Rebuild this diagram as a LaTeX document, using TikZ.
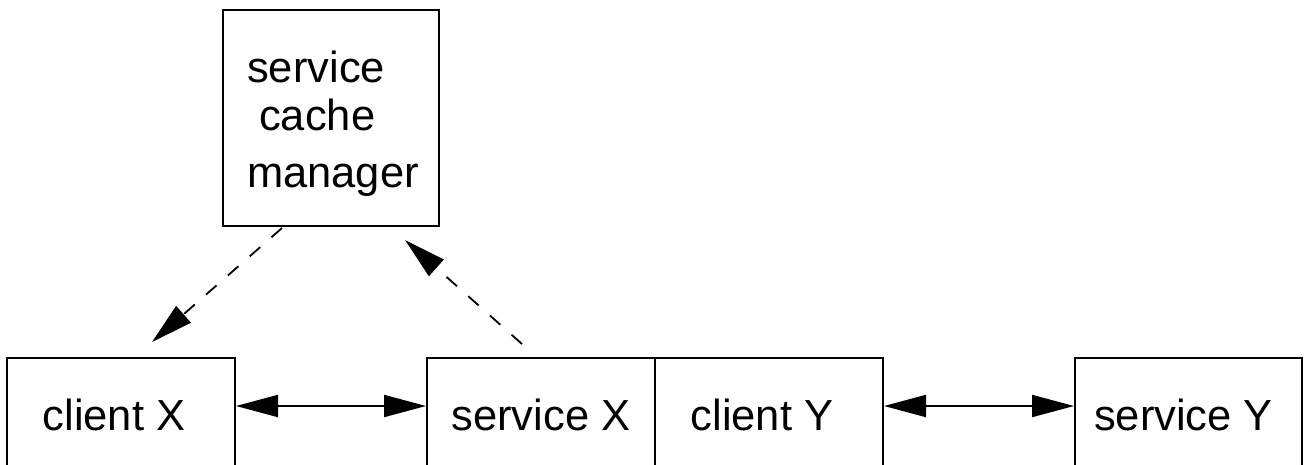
\documentclass[tikz,border=0pt]{standalone}
\usepackage{fontspec}
\setmainfont{Liberation Sans}
\usetikzlibrary{arrows.meta,calc}
\begin{document}
\begin{tikzpicture}[x=1pt,y=-1pt,
  box/.style={draw,line width=2pt,inner sep=0pt,font=\fontsize{43.5}{48}\selectfont},
  tip/.style={-{Triangle[length=42pt,width=22pt]}},
  dtip/.style={{Triangle[length=42pt,width=22pt]}-{Triangle[length=42pt,width=22pt]}},
  dashline/.style={line width=1.8pt,dash pattern=on 14pt off 15pt}]
\useasboundingbox (0,0) rectangle (1305,464);
\clip (0,0) rectangle (1305,464);
\node[box,minimum width=216pt,minimum height=216pt] (scm) at (331,118) {};
\node[font=\fontsize{43.5}{48}\selectfont,anchor=base west,inner sep=0pt] (l1) at (247,82) {service};
\node[font=\fontsize{43.5}{48}\selectfont,anchor=base west,inner sep=0pt] (l2) at (259,130) {cache};
\node[font=\fontsize{43.5}{48}\selectfont,anchor=base west,inner sep=0pt] (l3) at (247,187) {manager};
\node[box,minimum width=228pt,minimum height=114pt] (cx) at (121,415) {client X\hspace*{14pt}};
\node[box,minimum width=228pt,minimum height=114pt] (sx) at (541,415) {service X};
\node[box,minimum width=228pt,minimum height=114pt] (cy) at (769,415) {client Y\hspace*{14pt}};
\node[box,minimum width=227pt,minimum height=114pt] (sy) at (1188.5,415) {service Y\hspace*{10pt}};
\draw[dtip,line width=2pt] ($(cx.east)+(0,-9)$) -- ($(sx.west)+(0,-9)$);
\draw[dtip,line width=2pt] ($(cy.east)+(0,-9)$) -- ($(sy.west)+(0,-9)$);
\draw[dashline,tip] ($(scm.south west)+(60,1)$) -- ($(cx.north west)+(146,-15)$);
\draw[dashline,tip] ($(sx.north west)+(96,-13)$) -- ($(scm.south east)+(-35,13)$);
\end{tikzpicture}
\end{document}
